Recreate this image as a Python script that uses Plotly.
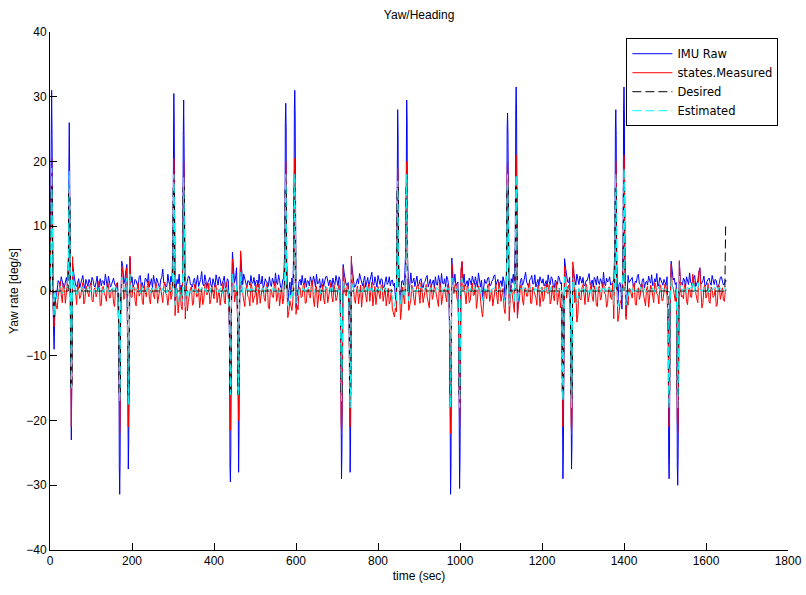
import numpy as np
import plotly.graph_objects as go

# ---------------- data ----------------
time_base = np.arange(0, 1651, 5)      # samples at whole 5 s steps
time_half = np.arange(2.5, 1650, 5)    # samples half-way between them

imu_base = [
    0.5, 1.0, 0.0, -1.2, 1.6, 0.9, 1.4, 0.6, 2.1, 1.0, 1.0, 4.2, 1.5, 0.7, 1.9, 1.1, 2.4, 0.4, 1.3, 1.8,
    0.9, 1.7, 0.6, 2.3, 1.2, 0.8, 1.5, 2.6, 0.5, 1.4, 1.0, 2.0, 0.7, 1.3, 1.0, 4.6, 1.1, 3.1, 1.0, 5.2,
    2.2, 1.0, 1.6, 0.6, 2.4, 1.3, 0.8, 1.8, 2.7, 1.2, 0.4, 1.5, 2.0, 0.9, 1.7, 3.4, 1.1, 0.7, 1.4, 2.3,
    1.0, -1.6, 1.8, 2.6, 0.9, 1.0, -2.3, 1.5, 2.2, 1.0, 1.6, 0.5, 2.4, 1.2, 3.0, 0.8, 1.7, 1.3, 2.1, 0.6,
    1.4, 2.5, 0.9, 1.8, 1.1, 2.3, 0.7, 1.6, 1.0, 6.0, 1.3, 3.6, 1.0, 5.8, 1.0, 1.9, 0.6, 1.5, 2.4, 1.2,
    0.8, 1.7, 2.6, 1.1, 0.5, 1.9, 1.3, 2.2, 0.7, 1.5, 2.8, 1.0, 1.6, 0.4, 2.0, 1.0, -1.8, 1.4, 2.0, 1.0,
    -2.6, 0.7, 1.8, 2.4, 1.1, 0.6, 1.5, 2.2, 0.9, 1.7, 2.6, 1.2, 0.5, 1.9, 1.3, 2.3, 0.8, 1.6, 2.0, 1.0,
    1.4, 2.2, 1.0, 4.1, 1.7, 1.0, 1.0, 4.6, 1.3, 0.7, 1.9, 2.7, 1.1, 1.6, 0.6, 2.1, 1.4, 2.9, 0.9, 1.5,
    2.4, 1.0, 1.8, 0.6, 2.2, 1.3, 0.8, 1.7, 1.2, -2.1, 1.0, -1.5, 1.6, 2.0, 1.0, -0.9, 2.8, 1.4, 0.7, 2.3,
    1.0, 1.9, 0.5, 1.5, 2.4, 1.2, 0.8, 1.7, 2.2, 0.9, 1.6, 2.7, 1.1, 0.6, 1.8, 1.0, 5.1, 1.3, 0.8, 1.4,
    1.0, 4.4, 2.6, 1.1, 0.7, 1.6, 2.3, 1.0, 1.5, 2.8, 0.6, -1.2, 1.8, 1.2, 2.1, 0.9, 1.7, 2.5, 1.3, 0.8,
    1.6, 2.2, -1.3, 1.0, -2.0, 1.9, 2.6, 1.0, -3.7, 0.7, 2.0, 1.3, 2.9, 0.9, 1.7, 2.4, 1.1, 0.6, 1.8, 2.2,
    1.2, 0.8, 1.6, 2.5, 1.0, 1.9, 0.5, 1.4, 2.3, 1.1, 1.0, 5.0, 2.0, 1.3, 1.0, 3.5, 1.7, 2.6, 1.0, 1.5,
    2.1, 0.9, 1.6, 2.7, 1.2, 0.6, 1.8, 2.3, 1.0, 1.5, 2.9, 0.8, 1.4, 2.2, 1.1, 1.7, 1.0, -1.9, 1.3, -2.8,
    1.0, -3.9, 2.4, 1.6, 2.1, 0.7, 1.3, 2.6, 1.0, 1.8, 0.5, 1.5, 2.3, 1.2, 0.8, 1.9, 2.7, 1.1, 1.6, 0.9,
    1.4, 2.2, 1.0, 4.6, 1.7, 1.0, 1.0, 4.4, 1.3, 2.0, 0.6, 1.5, 2.8, 1.1, 1.9, 0.7, 1.6, 3.6, 1.2, 2.3,
    0.9, 1.8, 1.3, 2.4, 1.0, 1.6, 0.7, 2.1, 1.4, 1.1, 1.5,
]
imu_half = [
    1.2, 0.4, 1.9, 0.8, 1.3, 2.2, 0.6, 1.5, 1.0, 2.6, 1.7, 2.9, 0.9, 1.4, 0.5, 2.0, 1.1, 1.8, 0.7, 1.2,
    2.1, 0.8, 1.4, 0.3, 1.9, 1.6, 0.9, 1.2, 2.3, 0.6, 1.8, 1.1, 0.4, 2.5, 1.0, 3.8, 1.7, 4.1, 2.0, 1.3,
    0.7, 1.8, 1.0, 2.2, 0.9, 0.5, 2.0, 1.3, 0.6, 1.9, 2.4, 0.8, 1.5, 0.4, 2.1, 1.2, 0.7, 2.6, 0.9, 1.4,
    -0.8, 0.5, 1.1, 0.2, -1.0, 1.6, 0.8, 2.3, 1.0, 0.6, 2.0, 1.4, 0.7, 1.8, 1.1, 2.5, 0.5, 1.6, 0.9, 1.9,
    0.6, 1.3, 2.2, 0.8, 1.6, 0.5, 1.9, 3.1, 1.0, 4.2, 2.0, 1.1, 1.0, 3.4, 2.6, 0.8, 1.6, 0.9, 1.3, 2.1,
    1.5, 0.6, 1.2, 2.3, 0.9, 1.4, 0.7, 1.1, 2.0, 0.8, 1.3, 2.5, 0.6, 1.7, 1.0, 1.0, 0.4, -0.6, 0.9, 1.0,
    -1.2, 1.5, 0.9, 1.2, 2.0, 1.6, 0.8, 1.4, 2.3, 0.6, 1.1, 1.9, 1.0, 0.7, 2.2, 1.3, 1.7, 0.5, 1.2, 2.4,
    0.8, 1.7, 1.0, 2.8, 0.9, 1.3, 2.1, 3.2, 0.6, 1.5, 1.1, 2.0, 0.8, 2.3, 1.2, 0.7, 1.8, 1.0, 2.2, 0.6,
    1.3, 1.9, 0.5, 1.4, 1.0, 2.2, 1.6, 0.8, -0.9, 1.0, 0.4, 1.5, 0.9, 1.0, -1.4, 0.6, 1.2, 2.0, 1.5, 0.8,
    1.7, 0.9, 1.3, 2.1, 0.6, 1.8, 1.4, 0.5, 1.0, 2.4, 0.8, 1.2, 1.9, 2.3, 0.7, 3.9, 1.0, 2.6, 1.1, 1.0,
    2.8, 1.3, 0.7, 1.6, 2.0, 0.9, 1.4, 2.2, 0.6, 1.1, 1.7, 0.3, 1.2, 2.0, 0.8, 1.5, 2.3, 0.9, 1.8, 1.1,
    0.7, 1.4, 0.2, 1.0, -0.8, 1.3, 1.0, 0.4, -1.5, 1.6, 0.9, 2.2, 1.4, 0.6, 1.9, 1.1, 2.5, 1.3, 0.8, 1.6,
    1.9, 1.1, 0.6, 1.5, 2.2, 0.8, 1.7, 1.0, 2.0, 1.3, 1.0, 3.6, 1.4, 2.1, 1.0, 2.7, 0.9, 1.5, 2.3, 1.2,
    0.8, 1.6, 2.4, 1.0, 1.7, 2.1, 0.9, 1.4, 1.9, 0.6, 1.2, 2.0, 1.6, 0.9, 1.3, 0.8, -0.7, 1.0, 0.5, 1.0,
    1.0, -1.6, 1.3, 2.0, 0.8, 1.5, 2.2, 1.1, 0.6, 1.9, 1.3, 0.9, 1.6, 2.5, 1.0, 1.4, 0.7, 2.1, 1.2, 1.8,
    0.9, 1.0, 1.0, 3.3, 2.0, 1.3, 3.1, 1.5, 0.9, 1.7, 2.2, 1.0, 1.4, 0.6, 2.4, 1.2, 2.9, 1.1, 1.6, 0.8,
    1.5, 2.0, 0.9, 1.3, 1.8, 0.6, 1.2, 2.2, 0.9, 1.7,
]

measured_base = [
    -0.6, 1.0, 0.0, -2.2, -0.9, 1.5, -1.8, 0.6, -0.4, 1.0, 1.0, 5.3, 0.8, -2.1, 0.4, -0.7, 1.3, -1.5, 0.2, -0.9,
    1.1, -1.7, 0.5, -0.3, 1.6, -2.2, 0.7, -0.8, 1.4, -1.1, 0.3, -1.9, 0.9, -0.5, 1.0, 3.8, -1.3, 2.4, 1.0, 5.4,
    -1.0, 0.6, -2.3, 1.3, -0.4, -1.6, 0.8, -0.9, 1.5, -2.0, 0.2, -1.2, 1.0, -0.6, 0.5, -1.8, 1.4, -0.7, 0.1, -1.3,
    1.0, -3.8, 0.4, -1.1, -2.4, 1.0, -4.3, -3.1, -0.5, 0.7, -1.9, 1.1, -0.8, -2.6, 0.5, -1.4, 1.3, -0.3, -2.0, 0.6,
    -1.2, 1.0, -0.6, -2.2, 0.8, -1.5, 1.4, -0.9, 1.0, 4.9, -1.7, 0.3, 1.0, 6.2, -0.4, -2.4, 0.9, -1.0, 1.2, -1.8,
    -0.7, -2.1, 1.1, -0.5, 0.6, -1.6, 1.3, -2.8, 0.2, -1.0, 1.5, -0.8, -2.3, 0.7, -1.2, 1.0, -4.1, -1.5, -3.0, 1.0,
    -3.6, -2.9, 0.5, -0.9, 1.2, -1.8, 0.3, -1.1, 1.6, -2.4, 0.7, -0.6, -1.5, 1.0, -2.0, 0.4, -0.8, 1.3, -1.7, 0.2,
    -1.0, 0.9, 1.0, 3.6, -0.4, 1.1, 1.0, 5.4, 0.6, -1.9, 0.8, -0.7, -2.5, 1.2, -1.1, 0.5, -1.6, 1.4, -0.3, -2.1,
    0.7, -1.2, 1.0, -0.6, -2.3, 0.4, -1.5, -2.8, -4.0, -3.2, 1.0, -4.4, 0.6, -2.0, 1.0, -3.0, -1.4, 0.3, -2.2, 0.8,
    -0.5, 1.3, -1.8, 0.6, -1.0, -2.6, 1.1, -0.7, 0.4, -1.5, 1.4, -2.1, 0.2, -0.9, 1.0, 1.0, 4.2, -0.4, 1.2, -1.7,
    1.0, 4.6, 0.9, -2.0, 0.5, -1.4, 1.2, -0.6, -2.7, 0.8, -1.8, -4.0, 0.3, -1.2, 1.1, -0.5, -2.3, 0.7, -1.0, 1.4,
    -1.6, 0.4, -3.5, 1.0, -4.6, 0.9, -1.7, 1.0, -4.2, -1.3, 1.0, -2.2, 0.5, -0.8, 1.3, -1.9, 0.2, -1.0, 0.9, -2.4,
    0.6, -1.2, 1.1, -0.4, -2.0, 0.8, -1.5, 1.3, -0.7, -2.6, 1.0, 3.8, -1.1, 0.9, 1.0, 4.5, -1.8, -4.8, 0.3, -1.4,
    1.0, -2.1, 0.5, -0.9, 1.2, -1.6, 0.2, -2.4, 0.8, -1.0, 1.4, -0.5, -1.9, 0.6, -1.3, -4.3, 1.0, -4.7, -2.0, -1.0,
    1.0, -4.4, -2.2, 0.3, -1.1, 1.2, -2.2, 0.5, -0.6, 1.0, -1.7, 0.4, -2.5, 0.9, -1.2, 1.3, -0.4, -2.0, 0.6, -1.4,
    1.1, -0.8, 1.0, 4.1, 0.5, -1.6, 1.0, 4.7, -0.9, -1.2, 0.8, -2.1, 0.4, -1.0, 1.5, -0.5, -1.8, 3.5, -2.6, 0.6,
    -1.1, 1.2, -1.9, 0.3, -0.7, -2.4, 0.9, -1.3, 0.5, -1.6, 0.2,
]
measured_half = [
    -1.0, 0.7, -1.3, -2.8, 0.3, -0.6, 1.2, -1.9, 0.5, -0.8, -1.5, 0.9, -0.3, 1.4, -1.2, 0.2, -2.0, 0.8, -0.5, 1.1,
    -1.4, 0.3, -0.9, 1.0, -2.3, 0.6, -0.4, -1.6, 0.9, -1.0, 0.4, -2.4, 1.2, -0.7, 0.5, 2.9, -0.8, 3.6, 0.6, -0.9,
    0.8, -1.5, 0.3, -0.8, 1.1, -2.1, -0.2, 0.9, -1.3, 0.4, -0.6, 1.3, -1.9, 0.2, -1.1, 0.7, -0.4, -2.2, 1.0, -0.7,
    -2.6, -1.2, -3.4, 0.6, -2.9, -0.4, 0.8, -1.6, 0.3, -2.2, 1.0, -0.9, 0.4, -1.4, -2.1, 0.9, -0.6, 1.2, -1.3, -0.2,
    0.9, -1.8, 0.2, -0.7, 1.3, -2.0, 0.5, -1.1, 3.8, 2.5, -0.9, 1.1, 4.4, 0.7, -1.5, 0.3, -0.8, -2.3, 0.6, -1.1,
    1.0, -0.6, -1.9, 0.4, -1.2, 0.8, -2.5, 0.2, -0.9, 1.3, -1.6, 0.5, -0.4, -2.0, 0.9, 1.0, -3.2, -2.6, -1.4, -3.3,
    -2.2, 0.6, -1.0, 0.9, -1.9, 0.2, -0.7, 1.1, -1.4, 0.4, -2.6, 0.8, -0.3, -1.2, 0.7, -1.8, 0.5, -0.9, 1.0, -1.5,
    0.3, -1.7, 3.0, 1.4, -0.8, 0.6, 4.3, 1.0, -1.3, 0.2, -2.0, 0.9, -0.6, 0.4, -1.7, 1.1, -0.2, -2.3, 0.7, -1.0,
    -0.4, 0.8, -1.6, 0.5, -0.9, -2.0, 0.3, -3.4, -2.6, -3.8, 0.4, -2.7, -1.0, 0.6, -3.5, -1.8, 0.9, -1.2, -0.3, 1.0,
    -1.9, 0.2, -0.8, 1.0, -2.2, 0.5, -1.3, 0.7, -0.6, -2.4, 0.8, -1.0, 0.3, -1.7, 0.6, 1.0, 3.2, 0.9, -1.1, 0.4,
    3.4, 0.1, -1.2, 0.8, -1.8, 0.3, -0.7, 1.2, -1.5, 0.5, -2.9, -1.1, -0.4, 0.9, -1.6, 0.2, -0.9, 1.1, -2.0, 0.3,
    -0.8, -2.7, 0.5, -3.9, -1.2, -0.6, -3.3, -1.0, -2.1, 0.7, -1.4, 0.3, -0.8, 1.1, -1.9, 0.6, -0.5, -2.2, 0.4, -1.0,
    -1.6, 0.7, -0.3, 1.0, -1.4, -0.7, 0.9, -2.1, 0.4, -1.1, 1.0, 2.7, 0.6, -1.4, 1.0, 3.3, 0.2, -3.6, -1.2, 0.5,
    -0.6, 1.1, -1.7, 0.3, -0.9, 0.8, -2.2, 0.5, -1.4, 0.9, -0.3, -2.5, 0.6, -1.0, 1.2, -2.9, 1.0, -3.8, -1.3, 1.0,
    -3.1, -1.6, 0.4, -0.8, 0.9, -2.0, 0.2, -1.3, 1.1, -0.5, -2.3, 0.7, -1.0, 0.3, -1.8, 0.8, -0.6, 1.0, -1.5, -0.2,
    0.6, 1.0, 3.3, 0.9, -1.1, 0.5, 3.6, 0.8, -0.7, 1.0, -1.6, 0.2, -0.9, 2.6, 0.4, -1.2, 2.8, -0.3, -1.9, 0.9,
    -0.5, -1.7, 0.6, -1.0, 0.4, -2.1, 0.8, -0.6, -1.4, 0.3,
]

estimated_base = [
    0.2, 0.0, 0.0, -0.8, 0.1, 0.7, -0.4, 0.3, 0.6, 0.0, 0.0, 3.0, 0.2, -0.5, 0.4, 0.1, 0.6, -0.2, 0.3, 0.5,
    -0.1, 0.4, 0.2, -0.4, 0.6, 0.0, 0.3, -0.3, 0.5, 0.1, -0.2, 0.4, 0.7, -0.1, 0.0, 2.1, 0.2, 1.4, 0.0, 2.6,
    0.3, -0.2, 0.5, 0.1, -0.4, 0.6, 0.2, -0.1, 0.4, -0.3, 0.5, 0.0, 0.3, 0.7, -0.2, 0.4, 0.1, -0.3, 0.6, 0.2,
    0.0, -2.2, 0.4, -0.5, -1.1, 0.0, -2.5, -1.4, 0.1, -0.2, 0.5, 0.3, -0.4, 0.2, 0.6, -0.1, 0.4, 0.0, -0.3, 0.5,
    0.2, -0.1, 0.6, 0.3, -0.4, 0.4, 0.1, -0.2, 0.0, 2.6, 0.2, 0.8, 0.0, 2.9, -0.3, 0.5, 0.1, -0.1, 0.4, 0.2,
    0.6, -0.2, 0.3, 0.0, 0.5, -0.3, 0.4, 0.1, -0.4, 0.6, 0.2, -0.1, 0.3, 0.5, -0.2, 0.0, -2.3, 0.2, 0.0, 0.4,
    -1.9, -0.7, 0.5, 0.1, 0.3, -0.3, 0.6, 0.0, 0.4, -0.2, 0.2, 0.5, -0.4, 0.3, 0.1, 0.6, -0.1, 0.4, 0.0, 0.2,
    0.5, -0.2, 0.0, 1.8, 0.4, 0.1, 0.0, 2.5, 0.6, 0.0, 0.3, -0.4, 0.5, 0.2, -0.1, 0.4, 0.6, -0.2, 0.3, 0.1,
    0.4, -0.3, 0.2, 0.6, -0.1, 0.3, 0.0, -1.2, -2.4, -1.7, 0.0, -2.1, 0.2, -0.6, 0.0, -1.5, -0.2, 0.5, 0.3, -0.1,
    0.3, 0.6, -0.2, 0.4, 0.1, -0.3, 0.5, 0.2, -0.1, 0.4, 0.0, 0.6, -0.3, 0.3, 0.5, 0.0, 2.3, 0.2, 0.4, -0.2,
    0.0, 2.0, 0.1, -0.3, 0.4, 0.2, -0.1, 0.6, 0.0, 0.3, -0.4, -1.5, 0.4, 0.1, 0.5, -0.2, 0.3, 0.6, -0.1, 0.2,
    0.4, -0.2, -1.6, 0.0, -2.3, 0.5, 0.1, 0.0, -2.0, -0.3, 0.2, 0.6, -0.1, 0.3, 0.5, 0.0, -0.2, 0.4, 0.1, 0.3,
    -0.1, 0.5, 0.2, -0.3, 0.6, 0.1, 0.3, -0.2, 0.4, 0.0, 0.0, 2.2, 0.3, -0.1, 0.0, 2.0, 0.2, -1.9, 0.5, 0.1,
    0.3, -0.2, 0.6, 0.1, -0.4, 0.4, 0.2, -0.1, 0.5, 0.3, -0.3, 0.6, 0.0, 0.2, 0.4, -2.1, 0.0, -2.4, -0.9, -0.5,
    0.0, -2.2, -0.8, 0.4, -0.2, 0.5, 0.2, -0.3, 0.6, 0.0, 0.3, -0.1, 0.4, 0.2, 0.5, -0.3, 0.1, 0.6, -0.2, 0.3,
    0.4, 0.0, 0.0, 2.1, 0.3, 0.5, 0.0, 2.3, 0.2, 0.4, -0.3, 0.6, 0.1, 0.3, 1.5, -0.2, 0.4, 0.2, -0.1, 0.5,
    0.2, -0.3, 0.4, 0.1, 0.6, -0.2, 0.3, 0.5, 0.0, 0.4, 0.1,
]
estimated_half = [
    0.0, 0.4, -0.3, -1.2, 0.2, 0.5, -0.1, 0.3, 0.6, 0.1, 0.0, 1.6, 0.4, -0.2, 0.3, 0.5, -0.1, 0.2, 0.4, 0.0,
    0.3, -0.2, 0.5, 0.1, 0.4, -0.3, 0.2, 0.6, -0.1, 0.3, 0.5, 0.0, 0.2, 0.4, -0.2, 1.6, 0.3, 2.0, 0.4, 0.1,
    0.5, 0.0, 0.3, -0.2, 0.4, 0.2, -0.3, 0.6, 0.1, 0.3, -0.1, 0.4, 0.2, 0.5, 0.0, -0.2, 0.3, 0.6, -0.1, 0.2,
    -1.4, -0.6, -1.8, 0.1, -1.6, 0.3, 0.0, 0.5, -0.2, 0.4, 0.1, -0.3, 0.6, 0.2, 0.0, 0.4, -0.2, 0.3, 0.5, 0.1,
    0.4, 0.1, -0.3, 0.5, 0.2, 0.0, 0.6, -0.1, 1.9, 1.5, 0.3, 0.5, 2.1, 0.6, 0.0, 0.3, 0.5, -0.2, 0.2, 0.4,
    0.1, 0.5, -0.2, 0.3, 0.0, 0.6, 0.2, -0.3, 0.4, 0.1, 0.5, -0.2, 0.3, 0.0, 0.6, 0.0, -1.7, -1.2, -0.8, -1.6,
    -1.0, 0.3, 0.1, 0.5, -0.2, 0.4, 0.2, -0.1, 0.6, 0.0, 0.3, 0.5, -0.2, 0.1, 0.4, 0.2, -0.3, 0.6, 0.1, 0.3,
    0.2, 0.4, 1.4, 0.8, 0.0, 0.3, 2.0, 0.6, -0.1, 0.4, 0.2, 0.5, -0.2, 0.3, 0.6, 0.0, 0.2, 0.5, -0.1, 0.4,
    0.1, 0.5, -0.2, 0.3, 0.4, 0.0, -0.3, -1.8, -1.4, -2.0, 0.2, -1.3, -0.5, 0.1, -1.8, -0.8, 0.3, 0.0, 0.4, 0.2,
    0.5, -0.1, 0.3, 0.6, 0.0, 0.4, 0.2, -0.2, 0.5, 0.1, 0.3, -0.1, 0.6, 0.2, 0.4, 0.0, 1.7, 0.5, 0.1, 0.3,
    1.6, 0.3, 0.0, 0.4, -0.2, 0.5, 0.1, 0.3, -0.1, 0.6, -0.6, -0.4, 0.2, 0.5, 0.0, 0.3, 0.4, -0.1, 0.2, 0.5,
    0.0, -1.2, 0.2, -1.9, -0.5, 0.3, -1.6, -0.7, -0.9, 0.4, 0.1, 0.5, -0.2, 0.3, 0.6, 0.1, 0.4, -0.1, 0.2, 0.5,
    0.3, 0.0, 0.6, 0.2, -0.1, 0.4, 0.5, -0.2, 0.3, 0.1, 0.0, 1.6, 0.4, 0.2, 0.0, 1.5, 0.3, -1.6, -0.4, 0.2,
    0.4, 0.1, -0.2, 0.5, 0.3, 0.0, 0.6, 0.2, -0.1, 0.4, 0.3, -0.3, 0.5, 0.1, 0.2, -1.6, 0.0, -1.9, -0.6, 0.0,
    -1.7, -0.7, 0.3, 0.1, 0.5, -0.2, 0.4, 0.2, 0.0, 0.6, -0.1, 0.3, 0.5, 0.1, 0.4, -0.2, 0.3, 0.0, 0.5, 0.2,
    0.3, 0.0, 1.6, 0.6, 0.2, 0.4, 1.8, 0.5, 0.1, 0.3, -0.2, 0.4, 0.6, 1.2, 0.1, 0.3, 1.3, 0.0, 0.2, 0.4,
    0.1, 0.5, -0.2, 0.3, 0.4, 0.0, 0.6, 0.2, -0.1, 0.3,
]

# turn events (centre time, s) and the samples taken around each centre
event_t = [4, 10, 47, 52, 170, 191, 302, 326, 440, 460, 575, 597, 711, 732,
           848, 870, 977, 999, 1116, 1137, 1251, 1272, 1380, 1400, 1510, 1531]
spike_offsets = [-2, -1, 0, 1, 2]

imu_spikes = [
    [13, 26, 31, 24, 6], [-3, -7, -9, -6, -1], [5, 19, 26, 18, 4], [-4, -18, -23, -15, -2],
    [-7, -27, -31.4, -26, -5], [-6, -25, -27.5, -23, -4], [8, 27, 30.5, 26, 6], [6, 24, 29.5, 23, 5],
    [-8, -27, -29.5, -25, -5], [-6, -24, -28, -22, -4], [7, 26, 29, 25, 5], [8, 28, 31, 27, 6],
    [-7, -26, -29, -25, -5], [-6, -25, -28, -24, -4], [7, 25, 28, 24, 5], [7, 27, 29.5, 26, 5],
    [-8, -28, -31.4, -27, -5], [-7, -27, -30.5, -26, -5], [6, 25, 27.5, 24, 5], [8, 28, 31.5, 27, 6],
    [-7, -26, -29, -25, -5], [-6, -25, -27.5, -24, -4], [7, 25, 28, 24, 5], [8, 28, 31.5, 27, 6],
    [-7, -26, -29, -25, -5], [-7, -27, -30, -26, -5],
]
measured_spikes = [
    [8, 17, 20.5, 15, 3], [-2, -4, -5.5, -3, -1], [3, 12, 16, 11, 2], [-3, -17, -21, -14, -2],
    [-6, -20, -22, -19, -4], [-5, -19, -21, -18, -3], [5, 18, 20.5, 17, 3], [5, 17, 20, 16, 3],
    [-6, -19, -21.5, -18, -4], [-5, -18, -20, -17, -3], [5, 18, 20, 17, 3], [5, 18, 20.5, 17, 3],
    [-6, -20, -22, -19, -4], [-5, -19, -21, -18, -3], [5, 17, 19, 16, 3], [5, 18, 20, 17, 3],
    [-6, -20, -22, -19, -4], [-6, -19, -21, -18, -4], [5, 18, 20, 17, 3], [5, 19, 21, 18, 3],
    [-6, -19, -21, -18, -4], [-6, -20, -22, -19, -4], [5, 18, 20, 17, 3], [5, 19, 21, 18, 3],
    [-6, -19, -21, -18, -4], [-6, -20, -22, -19, -4],
]
estimated_spikes = [
    [6, 15, 19, 15, 4], [-1, -3, -4, -2, 0], [3, 14, 18.5, 13, 2], [-2, -12, -15, -10, -1],
    [-5, -16, -17, -15, -3], [-4, -16, -17.5, -15, -2], [4, 16, 18, 15, 2], [4, 15, 17.5, 14, 2],
    [-5, -15, -16, -14, -3], [-4, -15, -16, -14, -2], [4, 16, 18, 15, 2], [4, 16, 18, 15, 2],
    [-5, -15, -17, -14, -3], [-4, -16, -18, -15, -2], [4, 15, 17, 14, 2], [4, 16, 18, 15, 2],
    [-5, -16, -18, -15, -3], [-5, -16, -18, -15, -3], [4, 16, 18, 15, 2], [4, 16, 18, 15, 2],
    [-5, -15, -17, -14, -3], [-5, -16, -18, -15, -3], [4, 16, 18, 15, 2], [4, 17, 19, 16, 2],
    [-5, -16, -18, -15, -3], [-5, -16, -18, -15, -3],
]
desired_peak = [16, -4, 15, -15, -16, -16, 16, 16, -16, -16, 16, 16, -16, -16,
                16, 16, -16, -16, 16, 16, -16, -16, 16, 16, -16, -16]
desired_offsets = [-2.5, -1.5, 1.5, 2.5]
desired_tail_t = [0, 1646, 1648]
desired_tail_v = [0, 0, 10.5]

for arr, n in [(imu_base, 331), (measured_base, 331), (estimated_base, 331),
               (imu_half, 330), (measured_half, 330), (estimated_half, 330)]:
    assert len(arr) == n, (len(arr), n)


def merge(base_vals, half_vals, spikes):
    pts = [(t, v) for t, v in list(zip(time_base, base_vals)) + list(zip(time_half, half_vals))
           if all(abs(t - tc) > 2.5 for tc in event_t)]
    for tc, vals in zip(event_t, spikes):
        pts += [(tc + o, v) for o, v in zip(spike_offsets, vals)]
    pts.sort(key=lambda p: p[0])
    return [float(p[0]) for p in pts], [p[1] for p in pts]


imu_t, imu_v = merge(imu_base, imu_half, imu_spikes)
mea_t, mea_v = merge(measured_base, measured_half, measured_spikes)
est_t, est_v = merge(estimated_base, estimated_half, estimated_spikes)

des_pts = list(zip(desired_tail_t, desired_tail_v))
for tc, p in zip(event_t, desired_peak):
    des_pts += [(tc + o, v) for o, v in zip(desired_offsets, [0, p, p, 0])]
des_pts.sort(key=lambda p: p[0])
des_t = [p[0] for p in des_pts]
des_v = [p[1] for p in des_pts]

# ---------------- figure ----------------
FONT = "Liberation Sans, Arial, sans-serif"
LEGEND_FONT = "DejaVu Sans, Liberation Sans, sans-serif"
DASH = "9px,4px"

fig = go.Figure()
fig.add_trace(go.Scatter(x=imu_t, y=imu_v, mode="lines", name="IMU Raw",
                         line=dict(color="#0000ff", width=1)))
fig.add_trace(go.Scatter(x=mea_t, y=mea_v, mode="lines", name="states.Measured",
                         line=dict(color="#ff0000", width=1)))
fig.add_trace(go.Scatter(x=des_t, y=des_v, mode="lines", name="Desired",
                         line=dict(color="#000000", width=1, dash=DASH)))
fig.add_trace(go.Scatter(x=est_t, y=est_v, mode="lines", name="Estimated",
                         line=dict(color="#00ffff", width=1, dash=DASH)))

axis_common = dict(showgrid=False, zeroline=False, showline=True, linecolor="#000000",
                   linewidth=1, ticks="inside", ticklen=7, tickcolor="#000000",
                   tickfont=dict(family=FONT, size=12, color="#000000"), mirror=False,
                   automargin=False)

fig.update_layout(
    width=806, height=595, autosize=False,
    paper_bgcolor="white", plot_bgcolor="white",
    margin=dict(l=50, r=18, t=32, b=45),
    title=dict(text="Yaw/Heading", x=0.52, xanchor="center", y=0.975, yanchor="middle",
               font=dict(family=FONT, size=12, color="#000000")),
    xaxis=dict(range=[0, 1800], tickmode="array", tickvals=list(range(0, 1801, 200)),
               title=dict(text="time (sec)", font=dict(family=FONT, size=12, color="#000000"),
                          standoff=4),
               **axis_common),
    yaxis=dict(range=[-40, 40], tickmode="array", tickvals=list(range(-40, 41, 10)),
               title=dict(text="Yaw rate [deg/s]", font=dict(family=FONT, size=12, color="#000000"),
                          standoff=5),
               **axis_common),
    legend=dict(x=0.781, y=0.988, xanchor="left", yanchor="top",
                bgcolor="white", bordercolor="#000000", borderwidth=1,
                font=dict(family=LEGEND_FONT, size=11.5, color="#000000"),
                itemwidth=40, tracegroupgap=0),
    showlegend=True,
)

# remove the page's default body margin so the 806x595 figure fills the window exactly
fig.write_html("out.html",
               config={"displayModeBar": False},
               post_script="document.body.style.margin='0';document.body.style.overflow='hidden';")
